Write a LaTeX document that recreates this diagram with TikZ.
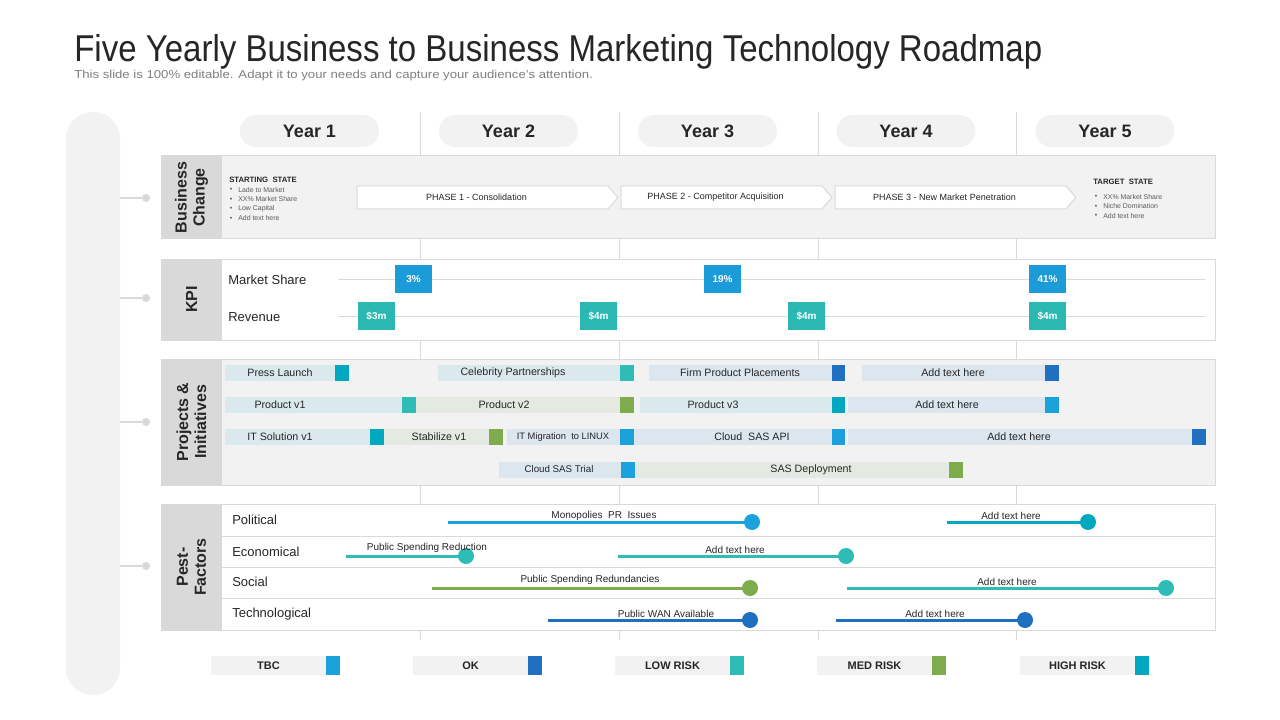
\documentclass[tikz,border=0pt]{standalone}
\usepackage{fontspec}
\setmainfont{Liberation Sans}
\usepackage{graphicx}
\definecolor{bgl}{HTML}{F2F2F2}
\definecolor{labg}{HTML}{D9D9D9}
\definecolor{lnc}{HTML}{D9D9D9}
\definecolor{txt}{HTML}{262626}
\definecolor{subt}{HTML}{7F7F7F}
\definecolor{cTBC}{HTML}{1BA1DC}
\definecolor{cOK}{HTML}{1F70C1}
\definecolor{cLOW}{HTML}{2DBDB6}
\definecolor{cMED}{HTML}{7EAB4B}
\definecolor{cHIGH}{HTML}{00A9C0}
\definecolor{kpiB}{HTML}{1B9BD7}
\definecolor{kpiT}{HTML}{2BB8B2}
\definecolor{barB}{HTML}{DAE9EE}
\definecolor{barG}{HTML}{E4EAE1}
\definecolor{barS}{HTML}{DCE6EF}

\newcommand\pbar[8]{%
  \fill[#5] (#2,#4-8) rectangle (#3,#4+8);
  \fill[#6] (#3,#4-8) rectangle (#3+13.5,#4+8);
  \node[bartxt] (#1) at (#7,#4) {#8};
}
\newcommand\pline[8]{%
  \coordinate (#1s) at (#2,#4);
  \coordinate (#1e) at (#3,#4);
  \draw[#5, line width=2.25pt] (#1s) -- (#1e);
  \node[circle, fill=#5, minimum size=12pt] (#1) at (#1e) {};
  \node[pesttxt] (#1t) at (#6,#7) {#8};
}
\newcommand\phasearrow[4]{%
  \draw[draw=lnc, fill=white, line width=0.75pt] (#2,186) -- (#3-10,186) -- (#3,197.5) -- (#3-10,209) -- (#2,209) -- cycle;
  \node[phasetxt] (#1) at ({(#2+#3)/2-11},197.5) {#4};
}
\newcommand\legitem[5]{%
  \fill[bgl] (#2,656) rectangle (#3,675);
  \fill[#4] (#3,656) rectangle (#3+14,675);
  \node[legtxt] (#1) at ({(#2+#3)/2},665.5) {#5};
}

\begin{document}
\begin{tikzpicture}[x=0.75pt,y=-0.75pt,
  every node/.style={inner sep=0pt, text=txt},
  seclab/.style={rotate=90, font=\bfseries\fontsize{12}{13.5}\selectfont, align=center},
  yearpill/.style={fill=bgl, rounded corners=12pt, minimum width=104.25pt, minimum height=24pt, font=\bfseries\fontsize{13.5}{16}\selectfont},
  kpibox/.style={minimum width=27.75pt, minimum height=21pt, text=white, font=\bfseries\fontsize{7.5}{9}\selectfont},
  rowlab/.style={anchor=west, font=\fontsize{9.75}{12}\selectfont},
  bartxt/.style={font=\fontsize{8}{10}\selectfont},
  pesttxt/.style={font=\fontsize{7.5}{9}\selectfont},
  phasetxt/.style={font=\fontsize{6.75}{8}\selectfont},
  legtxt/.style={font=\bfseries\fontsize{8.25}{10}\selectfont},
  smallhead/.style={anchor=west, font=\bfseries\fontsize{5.8}{7}\selectfont},
  smalltxt/.style={anchor=west, font=\fontsize{5.2}{6}\selectfont, text=subt!70!black},
  dot/.style={circle, fill=lnc, minimum size=6pt},
]
\useasboundingbox (0,0) rectangle (1280,720);
\fill[white] (0,0) rectangle (1280,720);

% title
\node[anchor=base west] (title) at (74,62) {\resizebox{726pt}{\height}{\fontsize{28}{32}\selectfont Five Yearly Business to Business Marketing Technology Roadmap}};
\node[anchor=base west, text=subt] (subtitle) at (74,79) {\resizebox{389pt}{\height}{\fontsize{8.6}{10}\selectfont This slide is 100\% editable. Adapt it to your needs and capture your audience's attention.}};

% left rail
\fill[bgl, rounded corners=20pt] (66,112) rectangle (120,695);
\foreach \yy/\nm in {198/c1,298/c2,422/c3,566/c4}{
  \coordinate (\nm s) at (120,\yy);
  \node[dot] (\nm) at (146,\yy) {};
  \draw[lnc, line width=1.5pt] (\nm s) -- (\nm);
}

% year dividers
\foreach \xx in {420,619,818,1016}{
  \draw[lnc, line width=0.75pt] (\xx,112) -- (\xx,640);
}
% year pills
\node[yearpill] (y1) at (309.5,131) {Year 1};
\node[yearpill] (y2) at (508.5,131) {Year 2};
\node[yearpill] (y3) at (707.5,131) {Year 3};
\node[yearpill] (y4) at (906,131) {Year 4};
\node[yearpill] (y5) at (1105,131) {Year 5};

% ===== Business change
\draw[lnc, fill=bgl, line width=0.75pt] (161,156) rectangle (1215,239);
\fill[labg] (161,156) rectangle (222,239);
\node[seclab] (bc) at (191.5,197.5) {Business\\Change};
\node[smallhead] (ss) at (229,179.5) {STARTING\ \ STATE};
\foreach \yy/\tt in {190/Lade to Market,199.5/XX\% Market Share,209/Low Capital,218.5/Add text here}{
  \node[smalltxt] at (229.5,\yy) {\textbullet};
  \node[smalltxt] at (238,\yy) {\tt};
}
\phasearrow{p1}{357}{618}{PHASE 1 - Consolidation}
\phasearrow{p2}{621}{832}{PHASE 2 - Competitor Acquisition}
\phasearrow{p3}{835}{1076}{PHASE 3 - New Market Penetration}
\node[smallhead] (ts) at (1093,181.5) {TARGET\ \ STATE};
\foreach \yy/\tt in {197/XX\% Market Share,206.5/Niche Domination,216/Add text here}{
  \node[smalltxt] at (1094.5,\yy) {\textbullet};
  \node[smalltxt] at (1103,\yy) {\tt};
}

% ===== KPI
\draw[lnc, fill=white, line width=0.75pt] (161,259) rectangle (1215,340);
\fill[labg] (161,259) rectangle (222,340);
\node[seclab] (kpi) at (191.5,299.5) {KPI};
\node[rowlab] (ms) at (228,280) {Market Share};
\node[rowlab] (rev) at (228,317) {Revenue};
\draw[lnc, line width=0.75pt] (338,279) -- (1205,279);
\draw[lnc, line width=0.75pt] (338,316) -- (1205,316);
\node[kpibox, fill=kpiB] (m1) at (413.5,279) {3\%};
\node[kpibox, fill=kpiB] (m2) at (722.5,279) {19\%};
\node[kpibox, fill=kpiB] (m3) at (1047.5,279) {41\%};
\node[kpibox, fill=kpiT] (r1) at (376.5,316) {\$3m};
\node[kpibox, fill=kpiT] (r2) at (598.5,316) {\$4m};
\node[kpibox, fill=kpiT] (r3) at (806.5,316) {\$4m};
\node[kpibox, fill=kpiT] (r4) at (1047.5,316) {\$4m};

% ===== Projects
\draw[lnc, fill=bgl, line width=0.75pt] (161,359) rectangle (1215,485);
\fill[labg] (161,359) rectangle (222,485);
\node[seclab] (pi) at (191.5,422) {Projects \&\\Initiatives};
\pbar{b1}{225}{335}{373}{barB}{cHIGH}{280}{Press Launch}
\pbar{b2}{438}{620}{373}{barB}{cLOW}{513}{Celebrity Partnerships}
\pbar{b3}{649}{831.5}{373}{barS}{cOK}{740}{Firm Product Placements}
\pbar{b4}{862}{1045}{373}{barS}{cOK}{953}{Add text here}
\pbar{b5}{225}{402}{405}{barB}{cLOW}{280}{Product v1}
\pbar{b6}{416}{620}{405}{barG}{cMED}{504}{Product v2}
\pbar{b7}{640}{831.5}{405}{barB}{cHIGH}{713}{Product v3}
\pbar{b8}{848}{1045}{405}{barS}{cTBC}{947}{Add text here}
\pbar{b9}{225}{370}{437}{barB}{cHIGH}{280}{IT Solution v1}
\pbar{b10}{384}{489}{437}{barG}{cMED}{439}{Stabilize v1}
\pbar{b11}{507}{620}{437}{barS}{cTBC}{563}{\fontsize{7}{8}\selectfont IT Migration\ \ to LINUX}
\pbar{b12}{633.5}{831.5}{437}{barS}{cTBC}{752}{Cloud\ \ SAS API}
\pbar{b13}{848}{1192}{437}{barS}{cOK}{1019}{Add text here}
\pbar{b14}{499}{621}{469.5}{barS}{cTBC}{559}{\fontsize{7.3}{8}\selectfont Cloud SAS Trial}
\pbar{b15}{634.5}{949}{469.5}{barG}{cMED}{811}{SAS Deployment}

% ===== Pest factors
\draw[lnc, fill=white, line width=0.75pt] (161,504) rectangle (1215,630);
\fill[labg] (161,504) rectangle (222,630);
\node[seclab] (pf) at (191.5,567) {Pest-\\Factors};
\foreach \yy in {536,567,598}{\draw[lnc, line width=0.75pt] (222,\yy) -- (1215,\yy);}
\node[rowlab] (pol) at (232,520) {Political};
\node[rowlab] (eco) at (232,552) {Economical};
\node[rowlab] (soc) at (232,582) {Social};
\node[rowlab] (tec) at (232,614) {Technological};
\pline{l1}{448}{752}{522}{cTBC}{604}{515.5}{Monopolies\ \ PR\ \ Issues}
\pline{l2}{947}{1088}{522}{cHIGH}{1011}{515.5}{Add text here}
\pline{l3}{346}{466}{556}{cLOW}{427}{547.5}{Public Spending Reduction}
\pline{l4}{618}{846}{556}{cLOW}{735}{549.5}{Add text here}
\pline{l5}{432}{750}{588}{cMED}{590}{579.5}{Public Spending Redundancies}
\pline{l6}{847}{1166}{588}{cLOW}{1007}{581.5}{Add text here}
\pline{l7}{548}{750}{620}{cOK}{666}{613.5}{Public WAN Available}
\pline{l8}{836}{1025}{620}{cOK}{935}{613.5}{Add text here}

% ===== Legend
\legitem{g1}{211}{326}{cTBC}{TBC}
\legitem{g2}{413}{528}{cOK}{OK}
\legitem{g3}{615}{730}{cLOW}{LOW RISK}
\legitem{g4}{817}{932}{cMED}{MED RISK}
\legitem{g5}{1020}{1135}{cHIGH}{HIGH RISK}
\end{tikzpicture}
\end{document}
